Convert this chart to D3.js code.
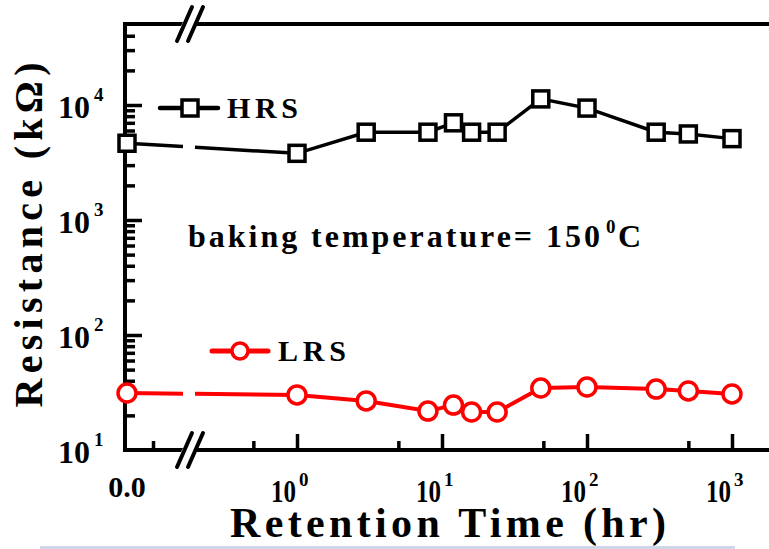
<!DOCTYPE html>
<html>
<head>
<meta charset="utf-8">
<style>
  html, body { margin: 0; padding: 0; background: #fff; }
  svg { display: block; }
  text { font-family: "Liberation Serif", "Times New Roman", serif; font-weight: bold; fill: #000; }
</style>
</head>
<body>
<svg width="769" height="549"></svg>
<script src="https://cdnjs.cloudflare.com/ajax/libs/d3/7.8.5/d3.min.js"></script>
<script>
// retention data (hours -> kOhm)
var times = [0, 1, 3, 8, 12, 16, 24, 48, 100, 300, 500, 1000];
var hrsRes = [4650, 3800, 5800, 5800, 7000, 5800, 5800, 11300, 9400, 5800, 5600, 5100];
var lrsRes = [31.3, 30.1, 26.7, 21.8, 24.6, 21.4, 21.4, 34.6, 35.3, 33.9, 32.6, 30.7];

var xMajor = [1, 10, 100, 1000];
var xMinor = [0.5, 5, 50, 500];
var xZeroMinor = [0.1];
var yMajor = [10, 100, 1000, 10000];
var yMinor = [];
[10, 100, 1000, 10000].forEach(function (d) {
  for (var k = 2; k <= 9; k++) if (d * k < 50000) yMinor.push(d * k);
});

var svg = d3.select("svg");

var axLeft = 125, axBottom = 450, axTop = 24;
var xZero = d3.scaleLinear().domain([0, 0.2]).range([127, 179]);
var xLog = d3.scaleLog().domain([1, 1000]).range([297, 732]);
var y = d3.scaleLog().domain([10, 50000]).range([axBottom, axBottom - 115 * Math.log10(5000)]);
function X(t) { return t === 0 ? xZero(t) : xLog(t); }

// frame
var frame = svg.append("g").attr("stroke", "#000").attr("stroke-width", 4).attr("stroke-linecap", "square");
frame.append("line").attr("x1", axLeft).attr("x2", axLeft).attr("y1", axTop).attr("y2", axBottom);
frame.append("line").attr("x1", axLeft).attr("x2", 790).attr("y1", axBottom).attr("y2", axBottom);
frame.append("line").attr("x1", axLeft).attr("x2", 790).attr("y1", axTop).attr("y2", axTop);

// ticks (inward)
function styleAxis(g) {
  g.select(".domain").remove();
  g.selectAll(".tick line").attr("stroke", "#000").attr("stroke-width", 3.5);
}
svg.append("g").attr("transform", "translate(" + axLeft + ",0)")
  .call(d3.axisLeft(y).tickValues(yMajor.slice(1)).tickSize(-17).tickFormat("")).call(styleAxis);
svg.append("g").attr("transform", "translate(" + axLeft + ",0)")
  .call(d3.axisLeft(y).tickValues(yMinor).tickSize(-10).tickFormat("")).call(styleAxis);
svg.append("g").attr("transform", "translate(0," + axBottom + ")")
  .call(d3.axisBottom(xLog).tickValues(xMajor).tickSize(-16).tickFormat("")).call(styleAxis);
svg.append("g").attr("transform", "translate(0," + axBottom + ")")
  .call(d3.axisBottom(xLog).tickValues(xMinor).tickSize(-9).tickFormat("")).call(styleAxis);
svg.append("g").attr("transform", "translate(0," + axBottom + ")")
  .call(d3.axisBottom(xZero).tickValues(xZeroMinor).tickSize(-9).tickFormat("")).call(styleAxis);

// axis break marks
function breakMark(cx, cy) {
  var g = svg.append("g");
  g.append("polygon")
    .attr("points", [[cx - 11, cy + 6], [cx - 5, cy - 6], [cx + 8, cy - 6], [cx + 2, cy + 6]].join(" "))
    .attr("fill", "#fff");
  g.append("line").attr("x1", cx - 13).attr("y1", cy + 17).attr("x2", cx + 2).attr("y2", cy - 17)
    .attr("stroke", "#000").attr("stroke-width", 4).attr("stroke-linecap", "round");
  g.append("line").attr("x1", cx - 2).attr("y1", cy + 17).attr("x2", cx + 13).attr("y2", cy - 17)
    .attr("stroke", "#000").attr("stroke-width", 4).attr("stroke-linecap", "round");
}
breakMark(190, axTop);
breakMark(190, axBottom);

// y tick labels
yMajor.forEach(function (d) {
  var e = Math.round(Math.log10(d));
  svg.append("text").attr("x", 58).attr("y", y(d) + 13).attr("font-size", 31)
    .attr("textLength", 32).attr("lengthAdjust", "spacingAndGlyphs").text("10");
  svg.append("text").attr("x", 94).attr("y", y(d) - 4).attr("font-size", 19).text(e);
});

// x tick labels
svg.append("text").attr("x", X(0)).attr("y", 497).attr("font-size", 30)
  .attr("text-anchor", "middle").text("0.0");
xMajor.forEach(function (d) {
  var e = Math.round(Math.log10(d));
  svg.append("text").attr("x", xLog(d) - 26).attr("y", 502).attr("font-size", 31)
    .attr("textLength", 25).attr("lengthAdjust", "spacingAndGlyphs").text("10");
  svg.append("text").attr("x", xLog(d) + 2).attr("y", 486).attr("font-size", 19).text(e);
});

// axis titles
svg.append("text").attr("transform", "translate(42,235) rotate(-90)")
  .attr("text-anchor", "middle").attr("font-size", 40)
  .attr("textLength", 345).attr("lengthAdjust", "spacing").text("Resistance (kΩ)");
svg.append("text").attr("x", 448).attr("y", 537)
  .attr("text-anchor", "middle").attr("font-size", 42)
  .attr("textLength", 436).attr("lengthAdjust", "spacing").text("Retention Time (hr)");

// series
var line = d3.line();
function drawSeries(values, color, width) {
  var pts = times.map(function (t, i) { return [X(t), y(values[i])]; });
  var p0 = pts[0], p1 = pts[1];
  function at(px) {
    var f = (px - p0[0]) / (p1[0] - p0[0]);
    return [px, p0[1] + f * (p1[1] - p0[1])];
  }
  var g = svg.append("g").attr("fill", "none").attr("stroke", color).attr("stroke-width", width);
  g.append("path").attr("d", line([p0, at(183)]));
  g.append("path").attr("d", line([at(195)].concat(pts.slice(1))));
  return pts;
}

var hrsPts = drawSeries(hrsRes, "#000", 3.5);
svg.append("g").selectAll("rect").data(hrsPts).enter().append("rect")
  .attr("x", function (d) { return d[0] - 8; })
  .attr("y", function (d) { return d[1] - 8; })
  .attr("width", 16).attr("height", 16)
  .attr("fill", "#fff").attr("stroke", "#000").attr("stroke-width", 3.5);

var lrsPts = drawSeries(lrsRes, "#ff0000", 4);
svg.append("g").selectAll("circle").data(lrsPts).enter().append("circle")
  .attr("cx", function (d) { return d[0]; })
  .attr("cy", function (d) { return d[1]; })
  .attr("r", 9)
  .attr("fill", "#fff").attr("stroke", "#ff0000").attr("stroke-width", 3.5);

// legend
svg.append("line").attr("x1", 160).attr("x2", 218).attr("y1", 108).attr("y2", 108)
  .attr("stroke", "#000").attr("stroke-width", 4.5).attr("stroke-linecap", "round");
svg.append("rect").attr("x", 182).attr("y", 100).attr("width", 16).attr("height", 16)
  .attr("fill", "#fff").attr("stroke", "#000").attr("stroke-width", 3.5);
svg.append("text").attr("x", 227).attr("y", 118).attr("font-size", 30)
  .attr("textLength", 71).attr("lengthAdjust", "spacing").text("HRS");

svg.append("line").attr("x1", 212).attr("x2", 268).attr("y1", 351).attr("y2", 351)
  .attr("stroke", "#ff0000").attr("stroke-width", 5).attr("stroke-linecap", "round");
svg.append("circle").attr("cx", 240).attr("cy", 351).attr("r", 8)
  .attr("fill", "#fff").attr("stroke", "#ff0000").attr("stroke-width", 3.5);
svg.append("text").attr("x", 278).attr("y", 361).attr("font-size", 30)
  .attr("textLength", 68).attr("lengthAdjust", "spacing").text("LRS");

// annotation
svg.append("text").attr("x", 188).attr("y", 247).attr("font-size", 32)
  .attr("textLength", 412).attr("lengthAdjust", "spacing").text("baking temperature= 150");
svg.append("text").attr("x", 606).attr("y", 233).attr("font-size", 19).text("0");
svg.append("text").attr("x", 618).attr("y", 247).attr("font-size", 32).text("C");

// clipped caption remnant at the very bottom
svg.append("rect").attr("x", 40).attr("y", 546).attr("width", 695).attr("height", 3)
  .attr("fill", "#cfd6e8");
</script>
</body>
</html>
